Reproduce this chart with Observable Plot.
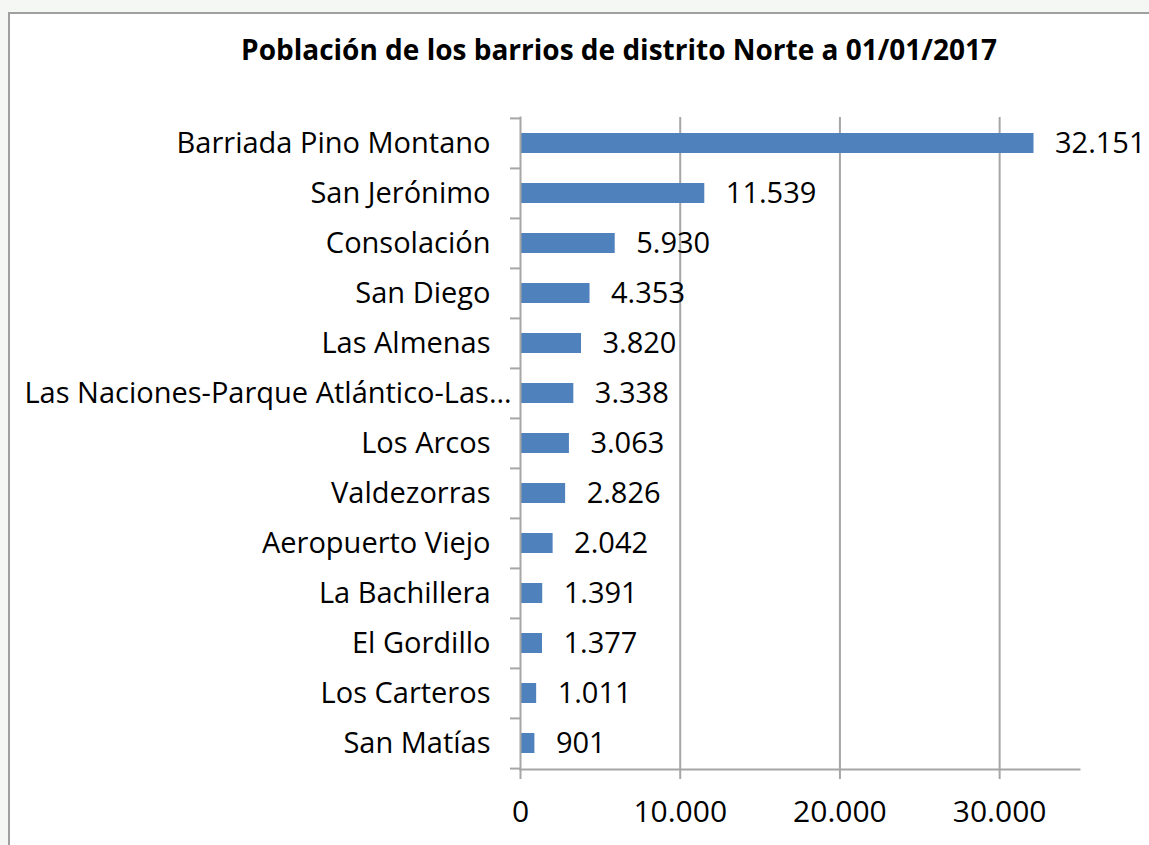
<!DOCTYPE html>
<html>
<head>
<meta charset="utf-8">
<script src="https://cdn.jsdelivr.net/npm/d3@7"></script>
<script src="https://cdn.jsdelivr.net/npm/@observablehq/plot@0.6"></script>
<style>
  html, body { margin: 0; padding: 0; background: #f4f7f4; }
  #wrap { position: relative; width: 1149px; height: 845px; overflow: hidden; }
  #frame { position: absolute; left: 8px; top: 12px; width: 1200px; height: 900px; background: #fff; border: 2px solid #a0a0a0; }
  #title { position: absolute; left: 0; top: 30px; width: 1238px; text-align: center; font-family: "Open Sans", sans-serif; font-weight: bold; font-size: 28px; color: #000; }
  #chart { position: absolute; left: 0; top: 0; }
</style>
</head>
<body>
<div id="wrap">
  <div id="frame"></div>
  <div id="title">Población de los barrios de distrito Norte a 01/01/2017</div>
  <div id="chart"></div>
</div>
<script>
const categories = ["Barriada Pino Montano","San Jerónimo","Consolación","San Diego","Las Almenas","Las Naciones-Parque Atlántico-Las…","Los Arcos","Valdezorras","Aeropuerto Viejo","La Bachillera","El Gordillo","Los Carteros","San Matías"];
const values = [32151,11539,5930,4353,3820,3338,3063,2826,2042,1391,1377,1011,901];
const xTicks = [0,10000,20000,30000];
const xMax = 35000;

const data = categories.map((name, i) => ({name, value: values[i]}));
const fmt = d3.formatLocale({decimal: ",", thousands: ".", grouping: [3], currency: ["", "€"]}).format(",d");

const W = 1149, H = 845, mL = 520, mR = 70, mT = 117, mB = 76;
const step = (H - mT - mB) / categories.length;
const axisColor = "#a6a6a6";
const fs = 29;
const longLabel = categories.find(c => c.endsWith("…"));

const chart = Plot.plot({
  width: W, height: H,
  marginLeft: mL, marginRight: mR, marginTop: mT, marginBottom: mB,
  style: {fontFamily: "'Open Sans', sans-serif", fontSize: fs + "px", color: "#000", background: "transparent", overflow: "visible"},
  x: {domain: [0, xMax]},
  y: {domain: categories, paddingInner: 0.6, paddingOuter: 0.3},
  marks: [
    Plot.gridX(xTicks.slice(1), {stroke: axisColor, strokeOpacity: 1, strokeWidth: 2}),
    Plot.barX(data, {x: "value", y: "name", fill: "#4f81bd"}),
    Plot.text(data, {x: "value", y: "name", text: d => fmt(d.value), textAnchor: "start", dx: 21, fontSize: fs, fill: "#000"}),
    Plot.frame({anchor: "bottom", stroke: axisColor, strokeWidth: 2}),
    Plot.frame({anchor: "left", stroke: axisColor, strokeWidth: 2}),
    Plot.axisX({ticks: xTicks, tickFormat: fmt, tickSize: 10, tickPadding: 21, stroke: axisColor, strokeWidth: 2, fill: "#000", fontSize: 30, label: null}),
    Plot.axisY({ticks: categories.filter(c => c !== longLabel), tickSize: 0, tickPadding: 30, fill: "#000", fontSize: fs, label: null}),
    Plot.axisY({ticks: [longLabel], tickSize: 0, tickPadding: 9, fill: "#000", fontSize: fs, label: null}),
    Plot.axisY({tickSize: 10, tickFormat: () => "", dy: -step / 2, stroke: axisColor, strokeWidth: 2, label: null}),
    Plot.axisY({ticks: [categories[categories.length - 1]], tickSize: 10, tickFormat: () => "", dy: step / 2, stroke: axisColor, strokeWidth: 2, label: null})
  ]
});
document.getElementById("chart").appendChild(chart);
</script>
</body>
</html>
